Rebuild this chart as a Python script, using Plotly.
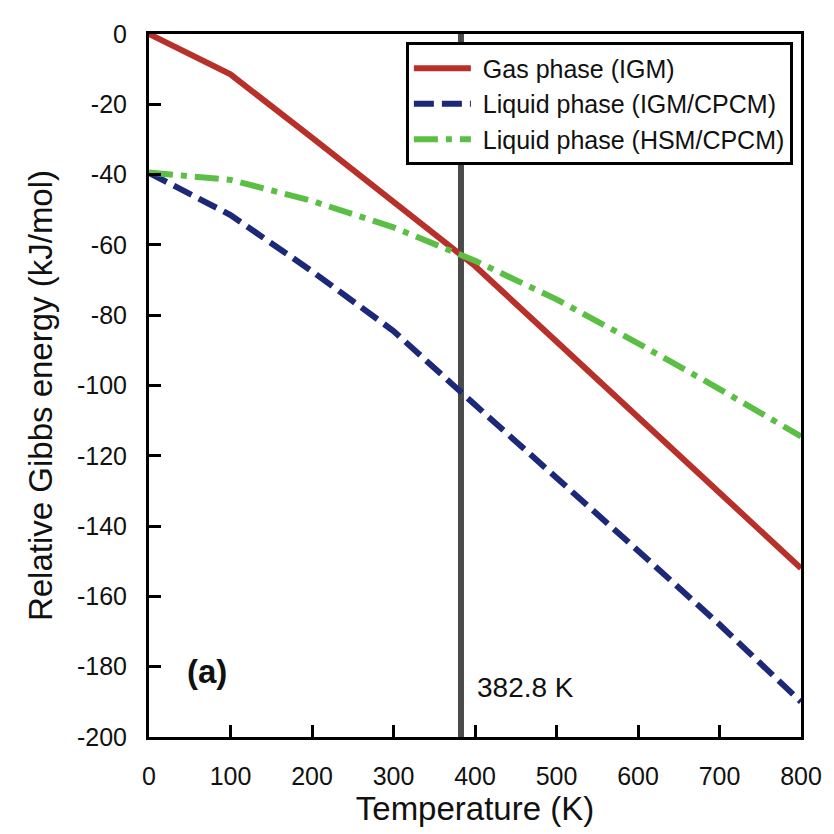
import plotly.graph_objects as go

# Data
temperature = [0, 100, 200, 300, 400, 500, 600, 700, 800]
gas_igm = [0, -11.5, -29.5, -47.5, -66, -87.5, -109, -130.5, -152]
liquid_igm_cpcm = [-39.5, -51.5, -67.5, -84.5, -105.5, -126, -147, -168, -190]
liquid_hsm_cpcm = [-39.4, -41.5, -47.5, -55, -64.5, -75.5, -88, -101, -114.5]

series_names = ["Gas phase (IGM)", "Liquid phase (IGM/CPCM)", "Liquid phase (HSM/CPCM)"]

crossing_T = 382.8
y_range = [-200, 0]
x_ticks = [0, 100, 200, 300, 400, 500, 600, 700, 800]
y_ticks = [0, -20, -40, -60, -80, -100, -120, -140, -160, -180, -200]
y_tick_labels = ["0", "-20", "-40", "-60", "-80", "-100", "-120", "-140", "-160", "-180", "-200"]

FONT = "Liberation Sans, Arial, sans-serif"
NBSP = "\u00a0"

fig = go.Figure()

# vertical marker line at crossing temperature
fig.add_trace(go.Scatter(
    x=[crossing_T, crossing_T], y=y_range, mode="lines",
    line=dict(color="#4a4a4c", width=6), showlegend=False, hoverinfo="skip"))

fig.add_trace(go.Scatter(
    x=temperature, y=gas_igm, mode="lines", name=NBSP + series_names[0],
    legendgroup="a", line=dict(color="#b8302a", width=6)))
fig.add_trace(go.Scatter(
    x=temperature, y=liquid_igm_cpcm, mode="lines", name=NBSP + series_names[1],
    legendgroup="b", line=dict(color="#1c2878", width=6, dash="20px,8px")))
fig.add_trace(go.Scatter(
    x=temperature, y=liquid_hsm_cpcm, mode="lines", name=NBSP + series_names[2],
    legendgroup="c", line=dict(color="#5cbf45", width=6, dash="24px,8px,6px,8px")))

axis_common = dict(
    showgrid=False, zeroline=False, showline=True, linecolor="black", linewidth=3,
    mirror=True, ticks="inside", ticklen=12, tickwidth=3, tickcolor="black",
    tickfont=dict(family=FONT, size=25, color="#111111"),
)

fig.update_xaxes(range=[0, 800], tickvals=x_ticks, ticklabelstandoff=15,
                 title=dict(text="Temperature (K)", font=dict(family=FONT, size=33, color="#111111"), standoff=8),
                 **axis_common)
fig.update_yaxes(range=y_range, tickvals=y_ticks, ticktext=y_tick_labels,
                 ticklabelstandoff=14, **axis_common)

fig.add_annotation(xref="paper", yref="paper", x=-0.166, y=0.486, xanchor="center", yanchor="middle",
                   text="Relative Gibbs energy (kJ/mol)", textangle=-90, showarrow=False,
                   font=dict(family=FONT, size=33, color="#111111"))

fig.add_annotation(x=400, y=-186, xref="x", yref="y", xanchor="left", yanchor="middle",
                   text="382.8 K", showarrow=False, font=dict(family=FONT, size=28, color="#111111"))
fig.add_annotation(x=44, y=-181.5, xref="x", yref="y", xanchor="left", yanchor="middle",
                   text="<b>(a)</b>", showarrow=False, font=dict(family=FONT, size=33, color="#111111"))

fig.update_layout(
    width=826, height=826,
    margin=dict(l=141, r=31, t=19, b=97),
    paper_bgcolor="white", plot_bgcolor="white",
    showlegend=True,
    legend=dict(x=0.394, y=0.988, xanchor="left", yanchor="top",
                bgcolor="white", bordercolor="black", borderwidth=3,
                font=dict(family=FONT, size=25, color="#111111"),
                itemwidth=57, tracegroupgap=3, traceorder="normal"),
)

fig.write_html("out.html")
